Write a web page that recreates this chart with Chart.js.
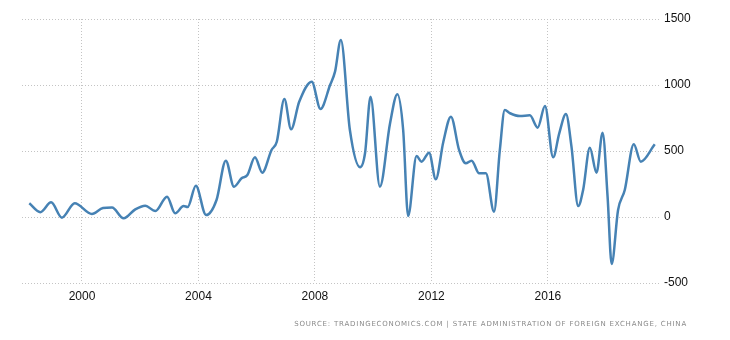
<html lang="en">
  <head>
    <meta charset="UTF-8" />
    <script src="https://cdn.jsdelivr.net/npm/chart.js"></script>
    <title>China Capital Flows</title>
    <style>
      body { margin: 0; background: #fff; }
      #wrap { position: relative; width: 730px; height: 340px; }
      #source {
        position: absolute; right: 43px; top: 320px;
        font-family: "DejaVu Sans", Verdana, sans-serif; font-size: 7px;
        letter-spacing: 0.8px; color: #8a8a8a; white-space: nowrap;
      }
    </style>
  </head>
  <body>
    <div id="wrap">
      <canvas id="chart" width="730" height="340"></canvas>
      <div id="source">SOURCE: TRADINGECONOMICS.COM | STATE ADMINISTRATION OF FOREIGN EXCHANGE, CHINA</div>
    </div>
    <script>
        // values (decimal year, value)
        const years = [
            1998.19, 1998.57, 1998.94, 1999.31, 1999.75, 2000.34, 2000.72, 2001.03, 2001.43, 2001.83,
            2002.17, 2002.52, 2002.92, 2003.2, 2003.49, 2003.63, 2003.91, 2004.26, 2004.62, 2004.94,
            2005.22, 2005.48, 2005.68, 2005.94, 2006.19, 2006.51, 2006.69, 2006.95, 2007.18, 2007.46,
            2007.89, 2008.19, 2008.52, 2008.69, 2008.89, 2009.2, 2009.55, 2009.72, 2009.91, 2010.23,
            2010.58, 2010.83, 2011.03, 2011.2, 2011.49, 2011.66, 2011.92, 2012.15, 2012.41, 2012.67,
            2012.95, 2013.18, 2013.38, 2013.64, 2013.87, 2014.15, 2014.35, 2014.52, 2014.7, 2015.04,
            2015.38, 2015.65, 2015.9, 2016.18, 2016.39, 2016.62, 2016.81, 2017.04, 2017.21, 2017.44,
            2017.67, 2017.88, 2018.05, 2018.19, 2018.41, 2018.64, 2018.95, 2019.19, 2019.67
        ];
        const values = [
            104, 36, 111, -5, 104, 23, 68, 72, -10, 58,
            86, 45, 154, 28, 83, 76, 237, 15, 129, 427,
            230, 293, 318, 452, 336, 508, 570, 894, 664, 873,
            1025, 818, 1000, 1101, 1341, 659, 377, 483, 911, 230,
            710, 930, 659, 8, 462, 419, 487, 286, 570, 760,
            508, 407, 427, 331, 331, 40, 508, 811, 786, 765,
            770, 677, 841, 452, 634, 780, 533, 83, 205, 525,
            336, 639, 154, -356, 53, 205, 551, 419, 551
        ];
        const xTicks = [2000, 2004, 2008, 2012, 2016];
        const yTicks = [-500, 0, 500, 1000, 1500];

        const points = years.map((y, i) => ({ x: y, y: values[i] }));
        const gridColor = '#c4c4c4';

        new Chart(document.getElementById('chart'), {
            type: 'line',
            data: {
                datasets: [{
                    data: points,
                    borderColor: '#4682b4',
                    borderWidth: 2.5,
                    pointRadius: 0,
                    fill: false,
                    cubicInterpolationMode: 'monotone'
                }]
            },
            options: {
                responsive: false,
                animation: false,
                layout: { padding: { left: 22, top: 19, right: 0, bottom: 0 } },
                plugins: { legend: { display: false }, tooltip: { enabled: false } },
                scales: {
                    x: {
                        type: 'linear',
                        min: 1997.94,
                        max: 2019.85,
                        afterBuildTicks: s => { s.ticks = xTicks.map(v => ({ value: v })); },
                        afterFit: s => { s.height = 57; },
                        grid: { color: gridColor, drawTicks: false },
                        border: { display: false, dash: [1, 2] },
                        ticks: {
                            padding: 6,
                            color: '#111',
                            font: { family: 'Arial, "Liberation Sans"', size: 12 },
                            callback: v => String(v)
                        }
                    },
                    y: {
                        position: 'right',
                        min: -500,
                        max: 1500,
                        afterBuildTicks: s => { s.ticks = yTicks.map(v => ({ value: v })); },
                        afterFit: s => { s.width = 70; },
                        grid: { color: gridColor, drawTicks: false },
                        border: { display: false, dash: [1, 2] },
                        ticks: {
                            padding: 4,
                            color: '#111',
                            font: { family: 'Arial, "Liberation Sans"', size: 12 },
                            callback: v => String(v)
                        }
                    }
                }
            }
        });
    </script>
  </body>
</html>
